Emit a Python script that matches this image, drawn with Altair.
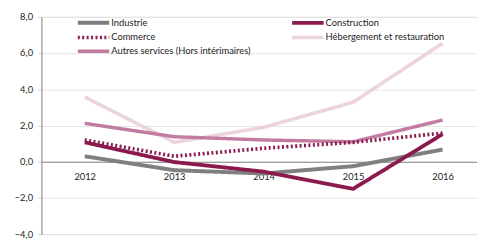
import altair as alt
import pandas as pd

years = [2012, 2013, 2014, 2015, 2016]
series_order = ["Industrie", "Construction", "Commerce",
                "Hébergement et restauration", "Autres services (Hors intérimaires)"]
colors = ["#7f7f7f", "#8b1a4f", "#8b1a4f", "#ecd4df", "#c27ca1"]
dashes = [[1, 0], [1, 0], [2, 2.5], [1, 0], [1, 0]]
widths = [4, 3.5, 2, 3.5, 3.5]

industrie = [0.3, -0.47, -0.65, -0.25, 0.67]
construction = [1.07, -0.02, -0.55, -1.5, 1.52]
commerce = [1.2, 0.3, 0.74, 1.07, 1.58]
hebergement = [3.57, 1.07, 1.9, 3.28, 6.54]
autres = [2.12, 1.38, 1.2, 1.1, 2.3]

# drawing order (last on top)
draw = [
    ("Hébergement et restauration", hebergement),
    ("Autres services (Hors intérimaires)", autres),
    ("Commerce", commerce),
    ("Industrie", industrie),
    ("Construction", construction),
]
rows = []
for name, vals in draw:
    for y, v in zip(years, vals):
        rows.append({"annee": y, "serie": name, "valeur": v})
df = pd.DataFrame(rows)

FONT = "Lato"

legend_common = dict(title=None, orient="none", legendX=47, legendY=0,
                     columns=2, direction="horizontal", columnPadding=34,
                     rowPadding=-1, symbolType="M-4,0L4,0", symbolSize=64,
                     labelOffset=12,
                     labelFontSize=9.5, labelFont=FONT, labelColor="#222",
                     labelLimit=300)

lines = alt.Chart(df).mark_line(strokeCap="butt", strokeJoin="round").encode(
    x=alt.X("annee:Q",
            scale=alt.Scale(domain=[2011.516, 2016.385], nice=False, zero=False),
            axis=alt.Axis(values=years, format="d", title=None, grid=False, ticks=False,
                          domainColor="#8c8c8c", domainWidth=1, offset=-73.5,
                          labelPadding=10, labelFontSize=9.5, labelColor="#222",
                          labelFont=FONT)),
    y=alt.Y("valeur:Q",
            scale=alt.Scale(domain=[-4, 8], nice=False),
            axis=alt.Axis(values=[-4, -2, 0, 2, 4, 6, 8], title=None,
                          labelExpr="replace(format(datum.value, '.1f'), '.', ',')",
                          gridColor="#e3e3e3", domainColor="#8c8c8c", tickColor="#d0d0d0",
                          tickSize=4, labelPadding=5, labelFontSize=9.5, labelColor="#222",
                          labelFont=FONT)),
    color=alt.Color("serie:N", scale=alt.Scale(domain=series_order, range=colors),
                    legend=alt.Legend(**legend_common)),
    strokeDash=alt.StrokeDash("serie:N", scale=alt.Scale(domain=series_order, range=dashes),
                              legend=alt.Legend(**legend_common)),
    strokeWidth=alt.StrokeWidth("serie:N", scale=alt.Scale(domain=series_order, range=widths),
                                legend=alt.Legend(**legend_common)),
)

chart = lines.properties(
    width=443, height=221,
    autosize=alt.AutoSizeParams(type="none"),
    padding={"left": 34, "top": 7, "right": 0, "bottom": 5},
).configure_view(stroke=None).configure(background="white")

chart.save("out.html", embed_options={"renderer": "svg", "actions": False})
